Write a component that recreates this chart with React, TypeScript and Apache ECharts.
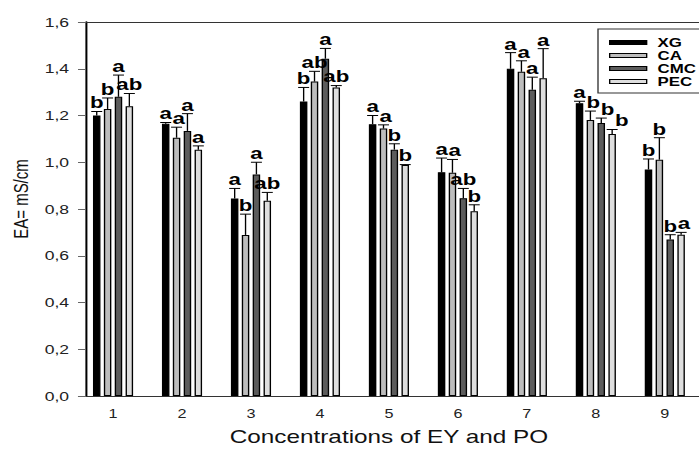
import React, { useEffect, useRef } from "react";
import * as echarts from "echarts";

// ---- data ----
const categories = ["1", "2", "3", "4", "5", "6", "7", "8", "9"];
const seriesNames = ["XG", "CA", "CMC", "PEC"];

const xgValues = [1.2, 1.165, 0.845, 1.26, 1.163, 0.957, 1.4, 1.252, 0.969];
const xgErrTop = [1.217, 1.17, 0.888, 1.32, 1.2, 1.018, 1.469, 1.261, 1.014];
const xgLetters = ["b", "a", "a", "b", "a", "a", "a", "a", "b"];

const caValues = [1.228, 1.105, 0.689, 1.345, 1.144, 0.955, 1.387, 1.181, 1.011];
const caErrTop = [1.275, 1.15, 0.778, 1.389, 1.16, 1.012, 1.434, 1.219, 1.105];
const caLetters = ["b", "a", "b", "ab", "a", "a", "a", "b", "b"];

const cmcValues = [1.28, 1.134, 0.948, 1.443, 1.054, 0.846, 1.31, 1.168, 0.67];
const cmcErrTop = [1.373, 1.208, 1.0, 1.487, 1.079, 0.888, 1.364, 1.189, 0.69];
const cmcLetters = ["a", "a", "a", "a", "b", "ab", "a", "b", "b"];

const pecValues = [1.24, 1.053, 0.835, 1.32, 0.988, 0.79, 1.359, 1.121, 0.69];
const pecErrTop = [1.294, 1.07, 0.871, 1.328, 0.99, 0.818, 1.486, 1.14, 0.7];
const pecLetters = ["ab", "a", "ab", "ab", "b", "b", "a", "b", "a"];

const yTicks = [0, 0.2, 0.4, 0.6, 0.8, 1.0, 1.2, 1.4, 1.6];
const yAxisTitle = "EA= mS/cm";
const xAxisTitle = "Concentrations of EY and PO";

const colors = ["#000000", "#bdbdbd", "#5c5c5c", "#dedede"];

// ---- layout (the reference is horizontally stretched) ----
const S = 1.35;
const W = 699;
const H = 451;
const px = (v: number) => v / S;
const FONT = '"Liberation Sans", Arial, Helvetica, sans-serif';

const GRID_TOP = 22;
const GRID_H = 381;
const Y_MIN = yTicks[0];
const Y_MAX = yTicks[yTicks.length - 1];

const barW = px(7.5);
const pitch = barW * 1.45;
const capHalf = px(5.5);
const LETTER_FS = 16.5;
const LETTER_H = 12;

const allValues = [xgValues, caValues, cmcValues, pecValues];
const allErr = [xgErrTop, caErrTop, cmcErrTop, pecErrTop];
const allLetters = [xgLetters, caLetters, cmcLetters, pecLetters];

// simple left-to-right collision avoidance for the significance letters
const charW: Record<string, number> = { a: 0.556, b: 0.611 };
const yToPx = (v: number) => GRID_TOP + ((Y_MAX - v) / (Y_MAX - Y_MIN)) * GRID_H;
const labelDx: number[][] = seriesNames.map(() => categories.map(() => 0));
categories.forEach((_, j) => {
  const boxes: { l: number; r: number; t: number; b: number }[] = [];
  seriesNames.forEach((__, i) => {
    const txt = allLetters[i][j];
    const w = txt.split("").reduce((s, c) => s + (charW[c] || 0.6), 0) * LETTER_FS;
    const cx = (i - 1.5) * pitch;
    const bottom = yToPx(allErr[i][j]) - 0.5;
    const top = bottom - LETTER_H;
    let dx = 0;
    boxes.forEach((bx) => {
      const left = cx + dx - w / 2;
      const right = cx + dx + w / 2;
      if (top < bx.b && bottom > bx.t && left < bx.r + 0.5 && right > bx.l) {
        dx += bx.r + 0.5 - left;
      }
    });
    boxes.push({ l: cx + dx - w / 2, r: cx + dx + w / 2, t: top, b: bottom });
    labelDx[i][j] = dx;
  });
});

function barSeries(i: number) {
  return {
    type: "bar",
    name: seriesNames[i],
    xAxisIndex: 0,
    yAxisIndex: 0,
    data: allValues[i],
    barWidth: barW,
    barGap: "45%",
    itemStyle: { color: colors[i], borderColor: "#000", borderWidth: 1 },
    z: 2,
  };
}

function errSeries(i: number) {
  const vals = allValues[i];
  const errs = allErr[i];
  const letters = allLetters[i];
  return {
    type: "custom",
    name: seriesNames[i] + " error",
    xAxisIndex: 0,
    yAxisIndex: 0,
    silent: true,
    z: 5,
    data: categories.map((_, j) => [j, vals[j], errs[j]]),
    encode: { x: 0, y: [1, 2] },
    renderItem: (params: any, api: any) => {
      const j = params.dataIndex;
      const base = api.coord([j, api.value(1)]);
      const top = api.coord([j, api.value(2)]);
      const cx = base[0] + (i - 1.5) * pitch;
      return {
        type: "group",
        children: [
          {
            type: "line",
            shape: { x1: cx, y1: base[1], x2: cx, y2: top[1] },
            style: { stroke: "#000", lineWidth: 1 },
          },
          {
            type: "line",
            shape: { x1: cx - capHalf, y1: top[1], x2: cx + capHalf, y2: top[1] },
            style: { stroke: "#000", lineWidth: 1 },
          },
          {
            type: "text",
            x: cx + labelDx[i][j],
            y: top[1] - 0.5,
            style: {
              text: letters[j],
              align: "center",
              verticalAlign: "bottom",
              font: `bold ${LETTER_FS}px ${FONT}`,
              fill: "#000",
            },
          },
        ],
      };
    },
  };
}

export default function App() {
  const ref = useRef<HTMLDivElement>(null);
  useEffect(() => {
    if (!ref.current) return;
    const chart = echarts.init(ref.current, null, { renderer: "svg" });
    const option: any = {
      animation: false,
      backgroundColor: "#ffffff",
      textStyle: { fontFamily: FONT },
      grid: { left: px(78.55), top: GRID_TOP, width: px(638.1), height: GRID_H, containLabel: false },
      legend: {
        data: seriesNames,
        orient: "vertical",
        left: px(598),
        top: 29,
        itemWidth: px(37),
        itemHeight: 4,
        itemGap: 0,
        icon: "rect",
        padding: [7, 10, 5, px(11)],
        borderColor: "#333",
        borderWidth: 1,
        itemStyle: { borderColor: "#000", borderWidth: 1 },
        textStyle: {
          fontFamily: FONT,
          fontSize: 12.5,
          fontWeight: "bold",
          color: "#000",
          lineHeight: 10,
          padding: [0, 0, 0, 3],
        },
      },
      graphic: [
        {
          type: "text",
          x: px(21),
          y: 199,
          rotation: Math.PI / 2,
          style: {
            text: yAxisTitle,
            font: `15px ${FONT}`,
            fill: "#111",
            align: "center",
            verticalAlign: "middle",
          },
        },
      ],
      xAxis: [
        {
          type: "category",
          data: categories,
          position: "bottom",
          axisLine: { lineStyle: { color: "#333", width: 1 } },
          axisTick: { alignWithLabel: true, length: 5, lineStyle: { color: "#333" } },
          axisLabel: { margin: 12, fontSize: 12, color: "#222", fontFamily: FONT },
          name: xAxisTitle,
          nameLocation: "middle",
          nameGap: 32,
          nameTextStyle: { fontSize: 18, color: "#111", fontFamily: FONT },
        },
        {
          type: "category",
          data: categories,
          position: "top",
          axisLine: { lineStyle: { color: "#333", width: 1 } },
          axisTick: { show: false },
          axisLabel: { show: false },
        },
      ],
      yAxis: {
        type: "value",
        min: Y_MIN,
        max: Y_MAX,
        interval: 0.2,
        offset: -px(7.45),
        axisLine: { show: true, lineStyle: { color: "#000", width: 1.5 } },
        axisTick: { show: true, length: px(8), lineStyle: { color: "#666" } },
        splitLine: { show: false },
        axisLabel: {
          formatter: (v: number) => v.toFixed(1).replace(".", ","),
          fontSize: 13,
          color: "#222",
          margin: 12.5,
          fontFamily: FONT,
        },
      },
      series: [
        barSeries(0),
        barSeries(1),
        barSeries(2),
        barSeries(3),
        errSeries(0),
        errSeries(1),
        errSeries(2),
        errSeries(3),
      ],
    };
    chart.setOption(option);
    return () => chart.dispose();
  }, []);

  return (
    <div
      style={{
        position: "fixed",
        left: 0,
        top: 0,
        width: W,
        height: H,
        overflow: "hidden",
        background: "#fff",
      }}
    >
      <div
        ref={ref}
        style={{
          width: W / S,
          height: H,
          transform: `scaleX(${S})`,
          transformOrigin: "0 0",
        }}
      />
    </div>
  );
}
